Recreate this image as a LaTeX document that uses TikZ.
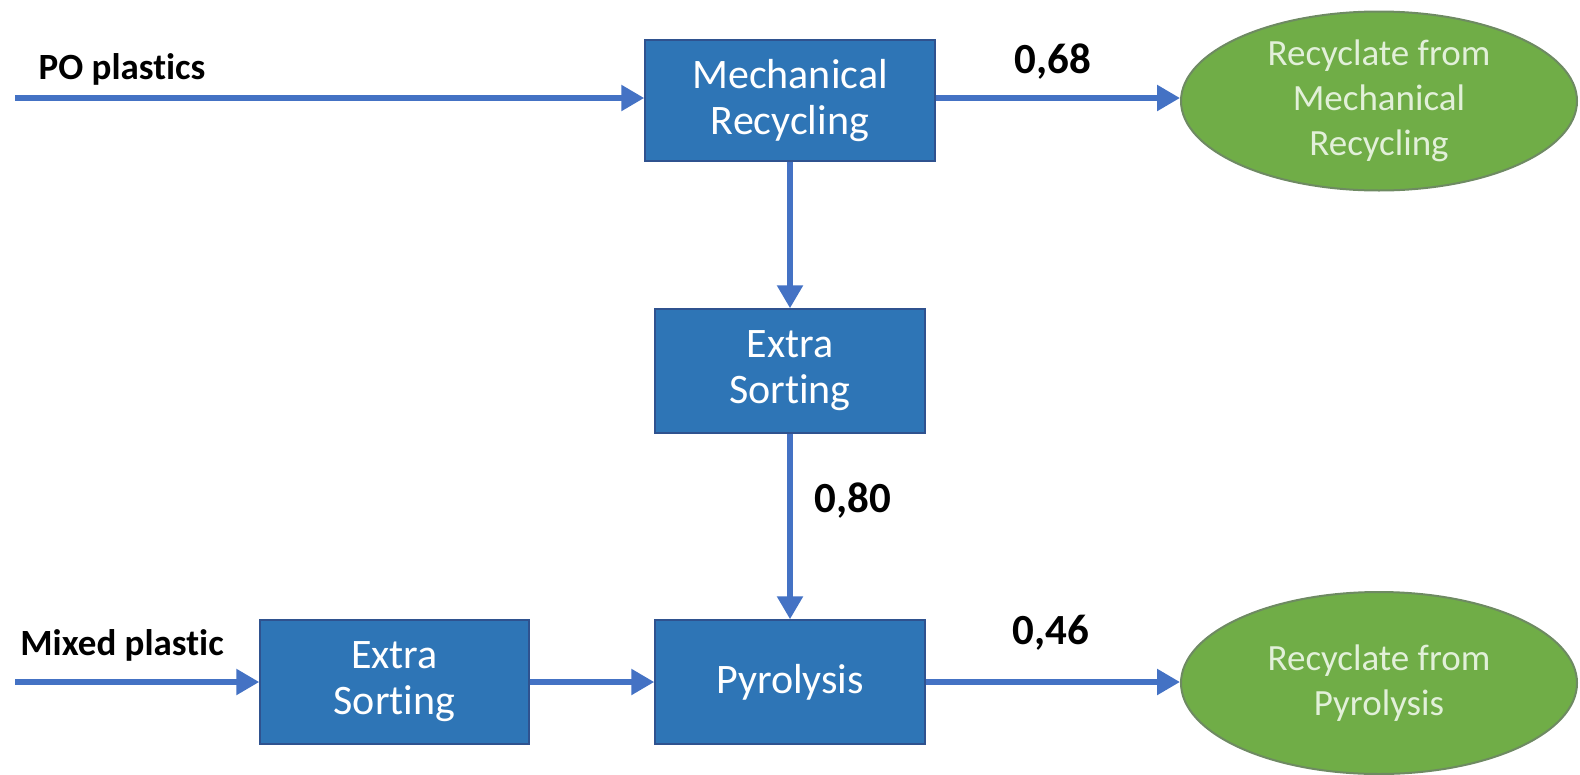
\documentclass[tikz,border=0pt]{standalone}
\usepackage{fontspec}
\setmainfont[Ligatures=NoCommon]{Carlito}
\usetikzlibrary{shapes.geometric,arrows.meta}
\definecolor{boxfill}{HTML}{2E75B6}
\definecolor{boxline}{HTML}{2F528F}
\definecolor{flow}{HTML}{4472C4}
\definecolor{outfill}{HTML}{70AD47}
\definecolor{outline}{HTML}{6E8A62}
\definecolor{outtext}{HTML}{E2F0D9}
\tikzset{
  process/.style={rectangle, fill=boxfill, draw=boxline, line width=1.5pt,
    inner sep=0pt, align=center, text=white,
    font=\fontsize{42}{46}\selectfont},
  product/.style={ellipse, fill=outfill, draw=outline, line width=2pt,
    inner sep=0pt, align=center, text=outtext,
    minimum width=396pt, font=\fontsize{37}{45}\selectfont},
  flowarrow/.style={draw=flow, line width=5.5pt,
    -{Triangle[length=23pt,width=25pt]}},
  inlabel/.style={font=\fontsize{37}{40}\selectfont\bfseries, inner sep=0pt},
  ratio/.style={font=\fontsize{43}{46}\selectfont\bfseries, inner sep=0pt}
}
\begin{document}
\begin{tikzpicture}[x=1pt,y=-1pt]
  \useasboundingbox (0,0) rectangle (1580,774);

  % process boxes
  \node[process, minimum width=290pt, minimum height=121pt] (mech) at (790,100.5) {Mechanical\\Recycling};
  \node[process, minimum width=270pt, minimum height=124pt] (sortA) at (790,371) {Extra\\Sorting};
  \node[process, minimum width=270pt, minimum height=124pt] (pyro) at (790,682) {Pyrolysis};
  \node[process, minimum width=269pt, minimum height=124pt] (sortB) at (394.5,682) {Extra\\Sorting};

  % products
  \node[product, minimum height=179pt] (recMech) at (1379,101) {Recyclate from\\Mechanical\\Recycling};
  \node[product, minimum height=182pt] (recPyro) at (1379,683) {Recyclate from\\Pyrolysis};

  % feed inputs
  \coordinate (poIn) at (15,98);
  \coordinate (mixIn) at (15,682);
  \node[inlabel] (poLabel) at (122,69) {PO plastics};
  \node[inlabel] (mixLabel) at (122,645) {Mixed plastic};

  % flows
  \draw[flowarrow] (poIn) -- (mech.west |- poIn);
  \draw[flowarrow] (mech.east |- 0,98) -- (recMech.west |- 0,98);
  \draw[flowarrow] (mech.south) -- (sortA.north);
  \draw[flowarrow] (sortA.south) -- (pyro.north);
  \draw[flowarrow] (mixIn) -- (sortB.west);
  \draw[flowarrow] (sortB.east) -- (pyro.west);
  \draw[flowarrow] (pyro.east) -- (recPyro.west |- pyro.east);

  % yield ratios
  \node[ratio] (r68) at (1053,62) {0,68};
  \node[ratio] (r80) at (853,501) {0,80};
  \node[ratio] (r46) at (1051,633) {0,46};
\end{tikzpicture}
\end{document}
